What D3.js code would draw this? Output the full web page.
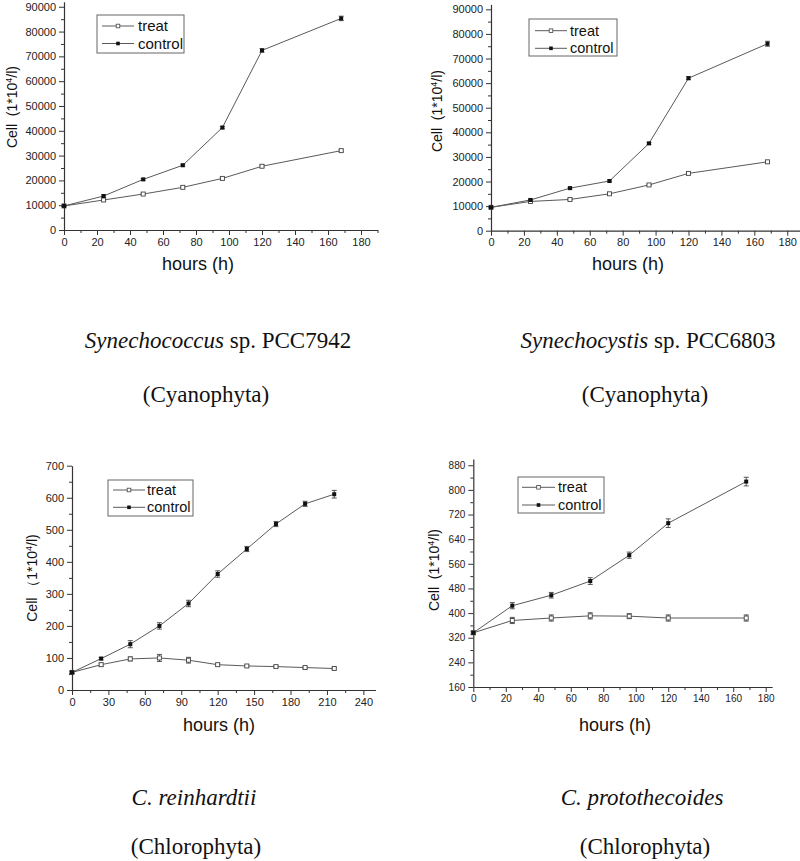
<!DOCTYPE html>
<html>
<head>
<meta charset="utf-8">
<script src="https://cdn.jsdelivr.net/npm/d3@7/dist/d3.min.js"></script>
<style>
  html, body { margin: 0; padding: 0; background: #fff; }
  svg { display: block; }
  .tick text { font-family: "Liberation Sans", Arial, sans-serif; fill: #222; }
</style>
</head>
<body>
<svg id="chart" width="800" height="861"></svg>
<script>
// ---------------- DATA ----------------
const hoursShort = [0, 24, 48, 72, 96, 120, 168];
const hoursLong = [0, 24, 48, 72, 96, 120, 144, 168, 192, 216];

// Synechococcus sp. PCC7942
const pcc7942Treat = [9700, 12100, 14500, 17200, 20800, 25700, 32000];
const pcc7942TreatErr = [200, 300, 300, 300, 300, 400, 400];
const pcc7942Control = [9700, 13700, 20400, 26100, 41300, 72400, 85300];
const pcc7942ControlErr = [200, 500, 400, 400, 500, 700, 900];

// Synechocystis sp. PCC6803
const pcc6803Treat = [9500, 11900, 12700, 15000, 18600, 23300, 28000];
const pcc6803TreatErr = [200, 300, 300, 300, 300, 300, 400];
const pcc6803Control = [9500, 12500, 17300, 20200, 35500, 62000, 76000];
const pcc6803ControlErr = [200, 400, 400, 400, 400, 600, 1000];

// C. reinhardtii
const reinTreat = [55, 79, 97, 100, 93, 79, 75, 73, 70, 67];
const reinTreatErr = [3, 5, 6, 11, 9, 4, 3, 3, 3, 3];
const reinControl = [55, 98, 143, 200, 270, 362, 440, 518, 581, 611];
const reinControlErr = [3, 4, 11, 10, 10, 10, 8, 8, 8, 12];

// C. protothecoides
const protoTreat = [336, 376, 384, 391, 390, 384, 384];
const protoTreatErr = [5, 10, 10, 10, 8, 10, 10];
const protoControl = [336, 424, 458, 504, 588, 692, 827];
const protoControlErr = [5, 10, 9, 11, 10, 14, 14];

const seriesNames = ["treat", "control"];

// tick labels
const xTicks20 = [0, 20, 40, 60, 80, 100, 120, 140, 160, 180];
const xMinor20 = [10, 30, 50, 70, 90, 110, 130, 150, 170, 190];
const xTicks30 = [0, 30, 60, 90, 120, 150, 180, 210, 240];
const xMinor30 = [15, 45, 75, 105, 135, 165, 195, 225];
const yTicksBig = [0, 10000, 20000, 30000, 40000, 50000, 60000, 70000, 80000, 90000];
const yMinorBig = [5000, 15000, 25000, 35000, 45000, 55000, 65000, 75000, 85000];
const yTicksRein = [0, 100, 200, 300, 400, 500, 600, 700];
const yMinorRein = [50, 150, 250, 350, 450, 550, 650];
const yTicksProto = [160, 240, 320, 400, 480, 560, 640, 720, 800, 880];
const yMinorProto = [200, 280, 360, 440, 520, 600, 680, 760, 840];

// ---------------- LAYOUT ----------------
const panels = [
  {
    hours: hoursShort, treat: pcc7942Treat, treatErr: pcc7942TreatErr,
    control: pcc7942Control, controlErr: pcc7942ControlErr,
    xDomain: [0, 190], xRange: [64, 377.5], yDomain: [0, 92000], yRange: [230, 1.8],
    xTicks: xTicks20, xMinor: xMinor20, yTicks: yTicksBig, yMinor: yMinorBig, tickFont: 11,
    yLabel: { x: 17, y: 107, full: false },
    xLabel: { x: 198, y: 270 },
    legend: { x0: 97, y0: 15, x1: 184, y1: 53, lx0: 102, lx1: 134, tx: 138, rows: [26, 43.5], font: 15 },
    cap1: { x: 218, y: 348, italic: "Synechococcus", rest: " sp. PCC7942" },
    cap2: { x: 206, y: 402, text: "(Cyanophyta)" }
  },
  {
    hours: hoursShort, treat: pcc6803Treat, treatErr: pcc6803TreatErr,
    control: pcc6803Control, controlErr: pcc6803ControlErr,
    xDomain: [0, 190], xRange: [491, 803.7], yDomain: [0, 92000], yRange: [230.7, 4.4],
    xTicks: xTicks20, xMinor: xMinor20, yTicks: yTicksBig, yMinor: yMinorBig, tickFont: 11,
    yLabel: { x: 442, y: 111, full: false },
    xLabel: { x: 628, y: 270 },
    legend: { x0: 529, y0: 19, x1: 617, y1: 56, lx0: 535, lx1: 567, tx: 570, rows: [30.7, 48.3], font: 14.5 },
    cap1: { x: 648, y: 348, italic: "Synechocystis", rest: " sp. PCC6803" },
    cap2: { x: 645, y: 402, text: "(Cyanophyta)" }
  },
  {
    hours: hoursLong, treat: reinTreat, treatErr: reinTreatErr,
    control: reinControl, controlErr: reinControlErr,
    xDomain: [0, 250], xRange: [72, 375.5], yDomain: [0, 700], yRange: [690, 465.7],
    xTicks: xTicks30, xMinor: xMinor30, yTicks: yTicksRein, yMinor: yMinorRein, tickFont: 11,
    yLabel: { x: 37, y: 578, full: true },
    xLabel: { x: 219, y: 731 },
    legend: { x0: 108, y0: 480, x1: 193, y1: 516, lx0: 113, lx1: 145, tx: 147, rows: [490, 507.3], font: 14.5 },
    cap1: { x: 194, y: 805, italic: "C. reinhardtii", rest: "" },
    cap2: { x: 196, y: 854, text: "(Chlorophyta)" }
  },
  {
    hours: hoursShort, treat: protoTreat, treatErr: protoTreatErr,
    control: protoControl, controlErr: protoControlErr,
    xDomain: [0, 184], xRange: [473.3, 772.2], yDomain: [160, 900], yRange: [687, 459.1],
    xTicks: xTicks20, xMinor: xMinor20.filter(v => v <= 184), yTicks: yTicksProto, yMinor: yMinorProto, tickFont: 10,
    yLabel: { x: 439, y: 570, full: false },
    xLabel: { x: 615, y: 731 },
    legend: { x0: 518, y0: 477, x1: 604, y1: 513, lx0: 522, lx1: 555, tx: 558, rows: [487.3, 505], font: 14.5 },
    cap1: { x: 642, y: 805, italic: "C. protothecoides", rest: "" },
    cap2: { x: 645, y: 854, text: "(Chlorophyta)" }
  }
];

const svg = d3.select("#chart");
const sans = '"Liberation Sans", Arial, Helvetica, sans-serif';
const serif = '"Liberation Serif", "Times New Roman", Times, serif';
const lineColor = "#5a5a5a";
const axisColor = "#333";

panels.forEach(p => {
  const g = svg.append("g");
  const x = d3.scaleLinear().domain(p.xDomain).range(p.xRange);
  const y = d3.scaleLinear().domain(p.yDomain).range(p.yRange);
  const y0 = p.yRange[0];
  const x0 = p.xRange[0];

  // minor ticks
  g.append("g").attr("transform", `translate(0,${y0})`)
    .call(d3.axisBottom(x).tickValues(p.xMinor).tickSize(3).tickSizeOuter(0).tickFormat(""))
    .call(a => a.select(".domain").remove())
    .call(a => a.selectAll("line").attr("stroke", axisColor));
  g.append("g").attr("transform", `translate(${x0},0)`)
    .call(d3.axisLeft(y).tickValues(p.yMinor).tickSize(3).tickSizeOuter(0).tickFormat(""))
    .call(a => a.select(".domain").remove())
    .call(a => a.selectAll("line").attr("stroke", axisColor));

  // major axes
  const xa = g.append("g").attr("transform", `translate(0,${y0})`)
    .call(d3.axisBottom(x).tickValues(p.xTicks).tickSize(5).tickSizeOuter(0).tickPadding(3).tickFormat(d3.format("d")));
  const ya = g.append("g").attr("transform", `translate(${x0},0)`)
    .call(d3.axisLeft(y).tickValues(p.yTicks).tickSize(5).tickSizeOuter(0).tickPadding(3).tickFormat(d3.format("d")));
  [xa, ya].forEach(a => {
    a.select(".domain").attr("stroke", axisColor).attr("stroke-width", 1.2);
    a.selectAll(".tick line").attr("stroke", axisColor);
    a.selectAll(".tick text").attr("font-size", p.tickFont).attr("font-family", sans).attr("fill", "#222");
  });

  // lines
  const line = d3.line().x((d, i) => x(p.hours[i])).y(d => y(d));
  [p.treat, p.control].forEach(vals => {
    g.append("path").datum(vals).attr("d", line)
      .attr("fill", "none").attr("stroke", lineColor).attr("stroke-width", 1);
  });

  // error bars
  const errSets = [[p.treat, p.treatErr], [p.control, p.controlErr]];
  errSets.forEach(([vals, errs]) => {
    const eg = g.append("g").attr("stroke", "#444").attr("stroke-width", 0.9);
    vals.forEach((v, i) => {
      const cx = x(p.hours[i]);
      const top = y(v + errs[i]), bot = y(v - errs[i]);
      eg.append("line").attr("x1", cx).attr("x2", cx).attr("y1", top).attr("y2", bot);
      eg.append("line").attr("x1", cx - 2.5).attr("x2", cx + 2.5).attr("y1", top).attr("y2", top);
      eg.append("line").attr("x1", cx - 2.5).attr("x2", cx + 2.5).attr("y1", bot).attr("y2", bot);
    });
  });

  // markers
  g.append("g").selectAll("rect").data(p.treat).join("rect")
    .attr("x", (d, i) => x(p.hours[i]) - 2).attr("y", d => y(d) - 2)
    .attr("width", 4).attr("height", 4)
    .attr("fill", "#fff").attr("stroke", "#444").attr("stroke-width", 0.9);
  g.append("g").selectAll("rect").data(p.control).join("rect")
    .attr("x", (d, i) => x(p.hours[i]) - 2).attr("y", d => y(d) - 2)
    .attr("width", 4).attr("height", 4)
    .attr("fill", "#111");

  // axis titles
  g.append("text").attr("x", p.xLabel.x).attr("y", p.xLabel.y)
    .attr("text-anchor", "middle").attr("font-family", sans).attr("font-size", 18).attr("fill", "#111")
    .text("hours (h)");
  const yl = g.append("text")
    .attr("transform", `translate(${p.yLabel.x},${p.yLabel.y}) rotate(-90)`)
    .attr("text-anchor", "middle").attr("font-family", sans).attr("font-size", 14).attr("fill", "#111");
  yl.append("tspan").text(p.yLabel.full ? "Cell \uFF081*10" : "Cell\u00a0\u00a0(1*10");
  yl.append("tspan").attr("font-size", 9).attr("dy", -5).text("4");
  yl.append("tspan").attr("dy", 5).text("/l)");

  // legend
  const L = p.legend;
  g.append("rect").attr("x", L.x0).attr("y", L.y0).attr("width", L.x1 - L.x0).attr("height", L.y1 - L.y0)
    .attr("fill", "#fff").attr("stroke", "#666").attr("stroke-width", 1);
  seriesNames.forEach((name, i) => {
    const ry = L.rows[i];
    g.append("line").attr("x1", L.lx0).attr("x2", L.lx1).attr("y1", ry).attr("y2", ry)
      .attr("stroke", lineColor).attr("stroke-width", 1);
    const mx = (L.lx0 + L.lx1) / 2;
    g.append("rect").attr("x", mx - 1.8).attr("y", ry - 1.8).attr("width", 3.6).attr("height", 3.6)
      .attr("fill", i === 0 ? "#fff" : "#111").attr("stroke", i === 0 ? "#444" : "none").attr("stroke-width", 0.8);
    g.append("text").attr("x", L.tx).attr("y", ry + 5).attr("font-family", sans).attr("font-size", L.font)
      .attr("fill", "#111").text(name);
  });

  // captions
  const c1 = svg.append("text").attr("x", p.cap1.x).attr("y", p.cap1.y).attr("text-anchor", "middle")
    .attr("font-family", serif).attr("font-size", 23).attr("fill", "#111");
  c1.append("tspan").attr("font-style", "italic").text(p.cap1.italic);
  if (p.cap1.rest) c1.append("tspan").text(p.cap1.rest);
  svg.append("text").attr("x", p.cap2.x).attr("y", p.cap2.y).attr("text-anchor", "middle")
    .attr("font-family", serif).attr("font-size", 23).attr("fill", "#111").text(p.cap2.text);
});
</script>
</body>
</html>
